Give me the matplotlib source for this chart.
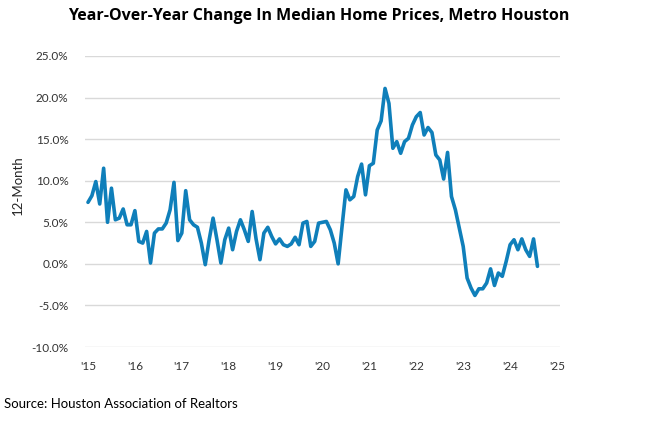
import matplotlib.pyplot as plt
import numpy as np

# monthly YoY change in median home price, Jan 2015 - Aug 2024 (%)
yoy = [7.4, 8.2, 9.9, 7.2, 11.5, 5.0, 9.1, 5.3, 5.5, 6.6, 4.7, 4.7,
       6.4, 2.7, 2.5, 3.9, 0.1, 3.7, 4.2, 4.2, 4.9, 6.5, 9.8, 2.8,
       3.7, 8.8, 5.3, 4.7, 4.4, 2.5, -0.1, 2.9, 5.5, 2.9, 0.1, 2.9,
       4.3, 1.7, 3.9, 5.3, 4.1, 2.7, 6.3, 3.0, 0.5, 3.7, 4.4, 3.3,
       2.4, 3.0, 2.3, 2.1, 2.4, 3.2, 2.3, 4.9, 5.1, 2.1, 2.7, 4.9,
       5.0, 5.1, 4.1, 2.5, 0.0, 4.5, 8.9, 7.7, 8.1, 10.5, 12.0, 8.3,
       11.8, 12.1, 16.1, 17.2, 21.1, 19.3, 13.9, 14.7, 13.3, 14.7, 15.1, 16.7,
       17.7, 18.2, 15.5, 16.4, 15.8, 13.1, 12.5, 10.2, 13.4, 8.1, 6.5, 4.3,
       2.1, -1.7, -2.9, -3.8, -3.0, -3.0, -2.3, -0.6, -2.6, -1.1, -1.5, 0.3,
       2.3, 2.9, 1.7, 3.0, 1.7, 0.9, 3.0, -0.3]
start_year = 2015
years = list(range(2015, 2026))
year_labels = ["'" + str(y)[2:] for y in years]
y_ticks = [-10, -5, 0, 5, 10, 15, 20, 25]

x = start_year + np.arange(len(yoy)) / 12.0

fig = plt.figure(figsize=(6.46, 4.26), dpi=100)
ax = fig.add_axes([85 / 646, 1 - 347 / 426, 475 / 646, 291 / 426])

ax.plot(x, yoy, color='#0F7FBA', linewidth=2.6, solid_joinstyle='round',
        solid_capstyle='round')

ax.set_xlim(2015 - 3 / 46.9, 2025 + 3 / 46.9)
ax.set_ylim(-10, 25)
ax.set_yticks(y_ticks)
ax.set_yticklabels([f'{v:.1f}%' for v in y_ticks])
ax.set_xticks(years)
ax.set_xticklabels(year_labels)
ax.grid(True, axis='y', color='#d9d9d9', linewidth=1)
ax.set_axisbelow(True)
for s in ax.spines.values():
    s.set_visible(False)
ax.tick_params(length=0, labelsize=8.5, colors='#333333')
ax.tick_params(axis='y', pad=12)
ax.tick_params(axis='x', pad=10)
for lab in ax.get_xticklabels() + ax.get_yticklabels():
    lab.set_family('Lato')

fig.text(0.494, 0.962, 'Year-Over-Year Change In Median Home Prices, Metro Houston',
         ha='center', va='center', fontsize=11.5, fontweight='bold',
         family='Open Sans')
fig.text(0.028, 0.565, '12-Month', rotation=90, ha='center', va='center',
         fontsize=9.5, family='Lato', color='#262626')
fig.text(0.006, 0.052, 'Source: Houston Association of Realtors', ha='left',
         va='center', fontsize=9.5, family='Lato')

fig.savefig('out.png', dpi=100)
